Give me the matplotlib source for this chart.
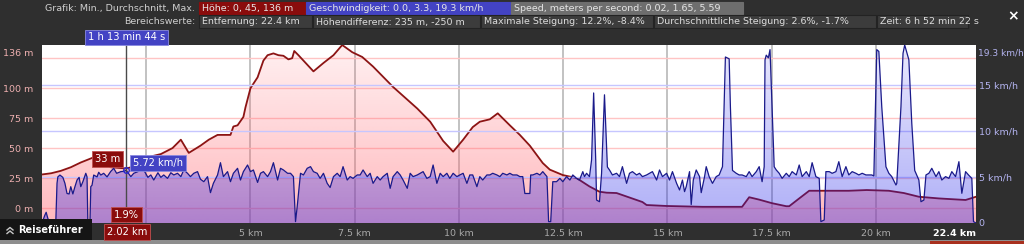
import numpy as np
import matplotlib
matplotlib.use("Agg")
import matplotlib.pyplot as plt
from matplotlib.patches import Rectangle
from matplotlib.lines import Line2D

# ---------------- data ----------------
elev_km = [0.0, 0.22, 0.45, 0.69, 0.93, 1.29, 1.48, 1.65, 2.02, 2.37, 2.61, 2.85, 3.13, 3.33,
           3.52, 3.80, 4.00, 4.21, 4.52, 4.59, 4.69, 4.83, 4.88, 5.00, 5.17, 5.31, 5.41, 5.55,
           5.67, 5.79, 5.91, 6.00, 6.05, 6.15, 6.51, 6.75, 6.99, 7.20, 7.44, 7.68, 7.94, 8.42,
           9.00, 9.31, 9.62, 9.86, 10.10, 10.33, 10.50, 10.74, 10.93, 11.22, 11.46, 11.70,
           12.01, 12.18, 12.49, 12.82, 13.13, 13.37, 13.54, 13.78, 14.40, 14.50, 14.98, 15.84,
           16.79, 16.96, 17.20, 17.51, 17.85, 17.92, 18.16, 18.40, 19.35, 19.78, 20.31, 20.67,
           21.03, 21.51, 22.15, 22.40]
elev_m = [28, 29, 31, 34, 38, 43, 38, 34, 33, 36, 43, 45, 50, 57,
          46, 52, 57, 61, 61, 68, 69, 76, 84, 100, 109, 123, 127.5, 129,
          127.5, 127, 124, 125, 131, 127.5, 114, 121, 127.5, 136, 130, 126, 118, 101,
          83, 72, 56, 47, 57, 67.5, 72, 74, 79, 69, 61, 52,
          37.5, 32, 27.5, 25, 18, 13.6, 12.8, 12.5, 5, 2.5, 1.7, 1,
          1, 9, 7, 4, 1.5, 1.5, 8, 14.4, 14.4, 15, 14.4, 12.5,
          9.4, 8, 6.7, 9.4]

speed_km = [0.00, 0.07, 0.10, 0.14, 0.19, 0.33, 0.36, 0.38, 0.43, 0.50, 0.55, 0.60, 0.65, 0.69,
            0.74, 0.79, 0.84, 0.89, 0.93, 0.98, 1.05, 1.08, 1.10, 1.15, 1.17, 1.20, 1.24, 1.32,
            1.36, 1.41, 1.48, 1.56, 1.65, 1.72, 1.79, 1.89, 1.96, 2.02, 2.13, 2.20, 2.30, 2.37,
            2.44, 2.54, 2.61, 2.68, 2.78, 2.85, 2.92, 3.01, 3.09, 3.16, 3.25, 3.33, 3.40, 3.49,
            3.56, 3.64, 3.73, 3.80, 3.88, 3.97, 4.04, 4.11, 4.21, 4.28, 4.35, 4.45, 4.52, 4.59,
            4.69, 4.76, 4.83, 4.93, 5.00, 5.07, 5.17, 5.24, 5.31, 5.41, 5.48, 5.55, 5.65, 5.72,
            5.79, 5.89, 5.96, 6.03, 6.08, 6.12, 6.20, 6.27, 6.36, 6.44, 6.51, 6.60, 6.67, 6.75,
            6.84, 6.91, 6.99, 7.08, 7.15, 7.22, 7.32, 7.39, 7.46, 7.56, 7.63, 7.70, 7.80, 7.87,
            7.94, 8.04, 8.11, 8.18, 8.28, 8.35, 8.42, 8.52, 8.59, 8.66, 8.76, 8.83, 8.90, 9.00,
            9.07, 9.14, 9.23, 9.31, 9.38, 9.47, 9.55, 9.62, 9.71, 9.78, 9.86, 9.95, 10.02, 10.10,
            10.19, 10.26, 10.33, 10.43, 10.50, 10.57, 10.67, 10.74, 10.81, 10.91, 10.98, 11.05,
            11.15, 11.22, 11.29, 11.39, 11.46, 11.53, 11.58, 11.70, 11.72, 11.77, 11.87, 11.94,
            12.01, 12.11, 12.15, 12.20, 12.25, 12.34, 12.42, 12.49, 12.58, 12.66, 12.73, 12.82,
            12.89, 12.97, 13.01, 13.06, 13.13, 13.18, 13.23, 13.28, 13.30, 13.37, 13.42, 13.49,
            13.56, 13.61, 13.68, 13.78, 13.85, 13.92, 14.02, 14.09, 14.16, 14.26, 14.33, 14.40,
            14.50, 14.57, 14.64, 14.74, 14.81, 14.88, 14.98, 15.05, 15.12, 15.22, 15.29, 15.36,
            15.41, 15.45, 15.53, 15.57, 15.62, 15.69, 15.77, 15.81, 15.89, 15.93, 16.00, 16.08,
            16.17, 16.24, 16.32, 16.39, 16.48, 16.51, 16.56, 16.65, 16.72, 16.79, 16.89, 16.96,
            17.03, 17.13, 17.20, 17.27, 17.32, 17.34, 17.37, 17.42, 17.46, 17.51, 17.56, 17.61,
            17.68, 17.75, 17.85, 17.92, 17.99, 18.09, 18.16, 18.23, 18.33, 18.40, 18.47, 18.56,
            18.64, 18.68, 18.76, 18.80, 18.88, 18.95, 19.04, 19.11, 19.19, 19.28, 19.35, 19.43,
            19.52, 19.59, 19.67, 19.76, 19.83, 19.90, 19.95, 20.02, 20.07, 20.14, 20.24, 20.31,
            20.38, 20.48, 20.50, 20.60, 20.65, 20.69, 20.74, 20.79, 20.86, 20.93, 20.96, 21.03,
            21.08, 21.15, 21.20, 21.27, 21.34, 21.44, 21.51, 21.58, 21.67, 21.75, 21.82, 21.91,
            21.99, 22.06, 22.15, 22.22, 22.30, 22.34, 22.40]
speed_kmh = [0.0, 0.87, 1.16, 0.5, 0.0, 0.0, 4.3, 5.0, 5.2, 4.95, 4.3, 3.2, 3.15, 3.94,
             3.15, 3.94, 4.66, 4.95, 3.94, 4.48, 5.39, 5.0, 0.0, 0.0, 3.94, 4.1, 5.2, 5.0,
             5.5, 5.2, 5.39, 5.0, 5.6, 5.93, 5.39, 5.57, 5.6, 5.72, 5.03, 5.39, 5.57, 5.93,
             5.75, 4.95, 5.21, 4.66, 5.45, 4.95, 5.21, 4.84, 5.45, 5.21, 5.39, 5.03, 5.75, 5.39,
             5.03, 5.39, 5.57, 4.75, 4.48, 5.03, 3.29, 4.3, 5.21, 6.54, 5.03, 5.57, 4.48, 5.39,
             5.93, 4.66, 5.57, 6.29, 5.57, 5.75, 4.4, 5.39, 5.57, 5.03, 5.57, 6.54, 4.66, 5.93,
             5.75, 5.39, 5.39, 5.03, 0.15, 1.77, 5.39, 5.21, 5.93, 6.11, 5.57, 5.39, 4.84, 5.39,
             4.3, 3.85, 5.03, 5.39, 5.03, 6.11, 4.66, 5.03, 4.84, 5.21, 5.21, 5.75, 5.03, 5.39,
             4.3, 5.03, 4.66, 5.03, 5.39, 3.76, 5.03, 5.57, 5.21, 4.66, 3.76, 5.39, 5.03, 5.21,
             5.39, 5.57, 4.84, 5.03, 6.29, 4.3, 5.39, 5.03, 5.39, 4.84, 5.39, 5.03, 5.21, 5.39,
             4.3, 5.21, 5.21, 3.94, 5.03, 4.66, 5.21, 5.21, 5.39, 5.21, 5.03, 5.39,
             5.21, 5.39, 5.21, 5.21, 5.03, 5.03, 3.2, 3.2, 5.21, 5.21, 5.39, 5.21,
             5.57, 5.03, 0.15, 0.15, 4.48, 4.48, 4.84, 4.48, 5.03, 4.66, 5.21, 4.84,
             4.66, 5.57, 5.03, 5.39, 5.03, 6.83, 14.1, 6.83, 2.49, 2.31, 5.39, 13.9,
             6.07, 5.75, 5.21, 5.39, 5.03, 6.11, 4.3, 5.39, 5.57, 5.21, 5.39, 5.03,
             5.21, 5.39, 5.57, 4.66, 5.75, 5.03, 5.39, 4.66, 5.57, 4.3, 3.58, 4.66,
             3.4, 3.94, 5.57, 2.0, 4.66, 5.75, 5.03, 3.29, 5.03, 6.11, 5.03, 4.3,
             5.03, 5.21, 6.11, 18.0, 17.8, 12.6, 5.7, 5.39, 5.21, 5.21, 5.03, 5.57,
             5.03, 5.57, 6.11, 4.48, 6.1, 17.7, 18.2, 17.9, 18.8, 12.6, 6.1, 5.75,
             5.39, 4.84, 5.39, 5.03, 5.57, 5.21, 6.29, 5.03, 5.57, 5.03, 6.54, 5.03,
             4.84, 0.15, 0.33, 5.57, 5.57, 5.39, 5.57, 6.65, 5.03, 6.11, 5.21, 5.57,
             5.39, 5.21, 5.39, 5.21, 5.21, 5.21, 5.1, 18.8, 18.6, 12.6, 6.1, 5.39,
             5.03, 4.12, 4.3, 12.6, 18.4, 19.3, 18.5, 17.7, 10.8, 5.7, 5.39, 4.66,
             2.31, 2.49, 5.21, 5.39, 5.93, 5.03, 5.57, 4.66, 5.03, 4.84, 5.57, 5.03,
             6.65, 3.22, 5.57, 5.21, 4.84, 0.15, 0.0]

grid_km = [2.5, 5, 7.5, 10, 12.5, 15, 17.5, 20]
xtick_km = [5, 7.5, 10, 12.5, 15, 17.5, 20]
xtick_labels = ["5 km", "7.5 km", "10 km", "12.5 km", "15 km", "17.5 km", "20 km"]
elev_ticks = [0, 25, 50, 75, 100]
elev_tick_labels = ["0 m", "25 m", "50 m", "75 m", "100 m"]
elev_grid = [0, 25, 50, 75, 100, 125]
speed_ticks = [0, 5, 10, 15]
speed_tick_labels = ["0", "5 km/h", "10 km/h", "15 km/h"]
total_km = 22.4
elev_max = 136
speed_max = 19.3
cursor_km = 2.02
cursor_elev = 33
cursor_speed = 5.72

header1 = ["Höhe: 0, 45, 136 m", "Geschwindigkeit: 0.0, 3.3, 19.3 km/h",
           "Speed, meters per second: 0.02, 1.65, 5.59"]
header2 = ["Entfernung: 22.4 km", "Höhendifferenz: 235 m, -250 m",
           "Maximale Steigung: 12.2%, -8.4%", "Durchschnittliche Steigung: 2.6%, -1.7%",
           "Zeit: 6 h 52 min 22 s"]

# ---------------- figure ----------------
W, H = 1024, 244
plt.rcParams['font.family'] = ['DejaVu Sans']
FS = 6.8
fig = plt.figure(figsize=(W / 100, H / 100), dpi=100, facecolor='#2f2f2f')


def fx(x):
    return x / W


def fy(y):
    return 1 - y / H


def rect(x0, y0, x1, y1, fc, ec=None, lw=0.0, z=1):
    r = Rectangle((fx(x0), fy(y1)), (x1 - x0) / W, (y1 - y0) / H, transform=fig.transFigure,
                  facecolor=fc, edgecolor=ec if ec else fc, lw=lw, zorder=z)
    fig.add_artist(r)


def boxtext(x0, y0, x1, y1, txt, fc, ec=None, tc='#e6e6e6'):
    rect(x0, y0, x1, y1, fc, ec, 0.8)
    fig.text(fx(x0 + 3), fy((y0 + y1) / 2 + 0.5), txt, ha='left', va='center', color=tc,
             fontsize=FS, zorder=3)


# header row 1
fig.text(fx(195), fy(8.5), "Grafik: Min., Durchschnitt, Max.", ha='right', va='center',
         color='#cfcfcf', fontsize=FS)
boxtext(199, 2, 305, 14, header1[0], '#8a0c0c')
boxtext(306, 2, 510, 14, header1[1], '#4343c4')
boxtext(511, 2, 743, 14, header1[2], '#6e6e6e')
# header row 2
fig.text(fx(195), fy(21.5), "Bereichswerte:", ha='right', va='center',
         color='#cfcfcf', fontsize=FS)
row2 = [(199, 312), (313, 480), (481, 653), (654, 876), (877, 968)]
for (a, b), t in zip(row2, header2):
    boxtext(a, 15, b, 28, t, '#3c3c3c', '#232323', '#dcdcdc')
fig.text(fx(1013), fy(16.5), "×", ha='center', va='center', color='white',
         fontsize=10, fontweight='bold')

# ---------------- axes ----------------
ax = fig.add_axes([fx(42), fy(223), (976 - 42) / W, (223 - 45) / H])
ax.set_facecolor('white')
ax2 = ax.twinx()

elev_lo = -12.5


def gradient_fill(a, x, y, ybottom, ytop, rgb, a_top, a_bot, z):
    poly = a.fill_between(x, y, ybottom, facecolor='none', edgecolor='none')
    path = poly.get_paths()[0]
    n = 256
    img = np.zeros((n, 2, 4))
    img[..., 0], img[..., 1], img[..., 2] = rgb
    img[..., 3] = np.linspace(a_bot, a_top, n)[:, None]
    im = a.imshow(img, extent=[min(x), max(x), ybottom, ytop], origin='lower',
                  aspect='auto', zorder=z, interpolation='bilinear')
    im.set_clip_path(path, transform=a.transData)


# grid on elevation axis
for g in grid_km:
    ax.axvline(g, color='#b2b2b2', lw=1.1, zorder=0.5)
for g in elev_grid:
    ax.axhline(g, color='#ffc4c4', lw=1.0, zorder=0.5)

gradient_fill(ax, elev_km, elev_m, elev_lo, elev_max, (1.0, 0.40, 0.44), 0.10, 0.46, 1)
ax.plot(elev_km, elev_m, color='#8c1414', lw=1.3, zorder=3)

for g in speed_ticks[1:]:
    ax2.axhline(g, color='#c6c6ff', lw=1.0, zorder=0.5)
gradient_fill(ax2, speed_km, speed_kmh, 0, speed_max, (0.10, 0.10, 0.92), 0.10, 0.35, 1)
ax2.plot(speed_km, speed_kmh, color='#1a1a8a', lw=0.9, zorder=3)

ax.set_xlim(0, total_km)
ax.set_ylim(elev_lo, elev_max)
ax2.set_ylim(0, speed_max)
for a in (ax, ax2):
    for s in a.spines.values():
        s.set_visible(False)

ax.set_xticks(xtick_km)
ax.set_xticklabels(xtick_labels)
ax.tick_params(axis='x', length=0, pad=4.2, labelsize=FS, labelcolor='#a8a8a8')
ax.set_yticks(elev_ticks)
ax.set_yticklabels(elev_tick_labels)
ax.tick_params(axis='y', length=0, pad=6.5, labelsize=FS, labelcolor='#eeb0b0')
ax2.set_yticks(speed_ticks)
ax2.set_yticklabels(speed_tick_labels)
ax2.tick_params(axis='y', length=0, pad=2.0, labelsize=FS, labelcolor='#b4b4f0')

ax.annotate(f"{elev_max} m", xy=(0, elev_max), xycoords=('axes fraction', 'data'),
            xytext=(-6.5, -5.8), textcoords='offset points', ha='right', va='center',
            color='#eeb0b0', fontsize=FS, annotation_clip=False)
ax2.annotate(f"{speed_max} km/h", xy=(1, speed_max), xycoords=('axes fraction', 'data'),
             xytext=(1.5, -5.8), textcoords='offset points', ha='left', va='center',
             color='#b4b4f0', fontsize=FS - 0.3, annotation_clip=False)
ax2.annotate(f"{total_km} km", xy=(total_km, 0), xycoords=('data', 'axes fraction'),
             xytext=(0, -4.2), textcoords='offset points', ha='right', va='top',
             color='white', fontsize=FS, fontweight='bold', annotation_clip=False)

# cursor
ax2.axvline(cursor_km, color='#4a4a4a', lw=1.0, zorder=4)
ax2.plot([cursor_km], [cursor_speed], 'o', mfc='none', mec='#2a2ad0', ms=4, zorder=5)
red_box = dict(boxstyle='square,pad=0.3', fc='#8a0c0c', ec='#c05050', lw=0.6)
blue_box = dict(boxstyle='square,pad=0.3', fc='#4343c4', ec='#8a8ae0', lw=0.6)
ax.annotate(f"{cursor_elev} m", xy=(cursor_km, cursor_elev), xytext=(-13.3, 6.5),
            textcoords='offset points', ha='center', va='center', color='white',
            fontsize=FS + 0.3, bbox=red_box, zorder=6)
ax2.annotate(f"{cursor_speed} km/h", xy=(cursor_km, cursor_speed), xytext=(22.7, 5.3),
             textcoords='offset points', ha='center', va='center', color='white',
             fontsize=FS + 0.3, bbox=blue_box, zorder=6)
ax2.annotate("1.9%", xy=(cursor_km, 0), xycoords=('data', 'axes fraction'), xytext=(0.4, 6.1),
             textcoords='offset points', ha='center', va='center', color='white',
             fontsize=FS + 0.3, bbox=red_box, zorder=6, annotation_clip=False)
ax2.annotate(f"{cursor_km} km", xy=(cursor_km, 0), xycoords=('data', 'axes fraction'),
             xytext=(0.4, -6.8), textcoords='offset points', ha='center', va='center',
             color='white', fontsize=FS + 0.3, bbox=red_box, zorder=6, annotation_clip=False)
ax2.annotate("1 h 13 min 44 s", xy=(cursor_km, 1), xycoords=('data', 'axes fraction'),
             xytext=(0.4, 5.4), textcoords='offset points', ha='center', va='center',
             color='white', fontsize=FS + 0.3, bbox=blue_box, zorder=6, annotation_clip=False)

# bottom chrome
rect(0, 240, 1024, 244, '#8e8e8e', z=0)
rect(930, 241, 1024, 244, '#a8301e', z=0)
rect(0, 219, 92, 240, '#151515', z=2)
fig.text(fx(18), fy(230), "Reiseführer", ha='left', va='center', color='white',
         fontsize=FS + 0.2, fontweight='bold', zorder=3)
for yy in (227.5, 231):
    fig.add_artist(Line2D([fx(7), fx(10), fx(13)], [fy(yy + 2.5), fy(yy), fy(yy + 2.5)],
                          transform=fig.transFigure, color='#c8c8c8', lw=1.0, zorder=3))

fig.savefig("out.png", dpi=100, facecolor=fig.get_facecolor())
